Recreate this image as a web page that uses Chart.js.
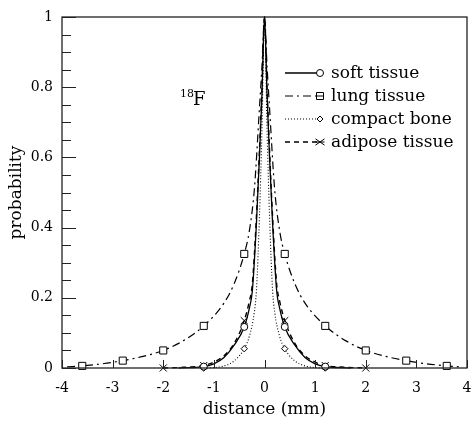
<!DOCTYPE html>
<html>
<head>
<meta charset="utf-8">
<script src="https://cdn.jsdelivr.net/npm/chart.js@4.4.0/dist/chart.umd.min.js"></script>
<style>
  html, body { margin: 0; padding: 0; background: #fff; }
</style>
</head>
<body>
<canvas id="chart" width="473" height="422"></canvas>
<script>
// values (distance in mm, probability)
const softX = [-1.7, -1.5, -1.2, -1.0, -0.8, -0.6, -0.4, -0.3, -0.24, -0.16, -0.1, -0.05, 0, 0.05, 0.1, 0.16, 0.24, 0.3, 0.4, 0.6, 0.8, 1.0, 1.2, 1.5, 1.7];
const softY = [0.0, 0.001, 0.004, 0.012, 0.03, 0.065, 0.117, 0.17, 0.22, 0.41, 0.6, 0.78, 1.0, 0.78, 0.6, 0.41, 0.22, 0.17, 0.117, 0.065, 0.03, 0.012, 0.004, 0.001, 0.0];

const lungX = [-3.9, -3.6, -3.2, -2.8, -2.4, -2.0, -1.6, -1.2, -0.8, -0.6, -0.4, -0.3, -0.2, -0.1, -0.05, 0, 0.05, 0.1, 0.2, 0.3, 0.4, 0.6, 0.8, 1.2, 1.6, 2.0, 2.4, 2.8, 3.2, 3.6, 3.9];
const lungY = [0.003, 0.006, 0.012, 0.021, 0.033, 0.05, 0.078, 0.12, 0.185, 0.24, 0.325, 0.39, 0.51, 0.74, 0.86, 1.0, 0.86, 0.74, 0.51, 0.39, 0.325, 0.24, 0.185, 0.12, 0.078, 0.05, 0.033, 0.021, 0.012, 0.006, 0.003];

const boneX = [-1.2, -1.0, -0.8, -0.6, -0.4, -0.3, -0.2, -0.16, -0.1, -0.05, 0, 0.05, 0.1, 0.16, 0.2, 0.3, 0.4, 0.6, 0.8, 1.0, 1.2];
const boneY = [0.0, 0.001, 0.006, 0.02, 0.055, 0.09, 0.16, 0.22, 0.43, 0.68, 1.0, 0.68, 0.43, 0.22, 0.16, 0.09, 0.055, 0.02, 0.006, 0.001, 0.0];

const fatX = [-2.0, -1.6, -1.2, -1.0, -0.8, -0.6, -0.4, -0.3, -0.24, -0.16, -0.1, -0.05, 0, 0.05, 0.1, 0.16, 0.24, 0.3, 0.4, 0.6, 0.8, 1.0, 1.2, 1.6, 2.0];
const fatY = [0.0, 0.002, 0.007, 0.017, 0.035, 0.07, 0.135, 0.19, 0.24, 0.43, 0.62, 0.8, 1.0, 0.8, 0.62, 0.43, 0.24, 0.19, 0.135, 0.07, 0.035, 0.017, 0.007, 0.002, 0.0];

// where the markers sit on each curve
const softMarks = [-1.2, -0.4, 0.4, 1.2];
const lungMarks = [-3.6, -2.8, -2.0, -1.2, -0.4, 0.4, 1.2, 2.0, 2.8, 3.6];
const boneMarks = [-1.2, -0.4, 0.4, 1.2];
const fatMarks = [-2.0, -1.2, -0.4, 0.4, 1.2, 2.0];

const seriesNames = ['soft tissue', 'lung tissue', 'compact bone', 'adipose tissue'];
const xTicks = [-4, -3, -2, -1, 0, 1, 2, 3, 4];
const yTicks = [0, 0.2, 0.4, 0.6, 0.8, 1];

const FONT = '"DejaVu Serif", "Liberation Serif", serif';

function pts(xs, ys) {
    return xs.map((x, i) => ({ x: x, y: ys[i] }));
}

function makeSet(label, xs, ys, marks, style, size, dash, width) {
    return {
        label: label,
        data: pts(xs, ys),
        borderColor: '#000',
        borderWidth: width,
        borderDash: dash,
        backgroundColor: '#fff',
        pointBackgroundColor: '#fff',
        pointBorderColor: '#000',
        pointBorderWidth: 1,
        pointStyle: style,
        pointRadius: c => (c.raw && marks.includes(c.raw.x)) ? size : 0,
        pointHoverRadius: 0,
        cubicInterpolationMode: 'monotone',
        fill: false,
        clip: false
    };
}

const datasets = [
    makeSet(seriesNames[0], softX, softY, softMarks, 'circle', 3.5, [], 1.3),
    makeSet(seriesNames[1], lungX, lungY, lungMarks, 'rect', 5, [8, 4, 2, 4], 1.2),
    makeSet(seriesNames[2], boneX, boneY, boneMarks, 'rectRot', 3.2, [1, 2], 1.1),
    makeSet(seriesNames[3], fatX, fatY, fatMarks, 'crossRot', 5, [5, 4], 1.4)
];

// draws a marker shape by hand (used for the legend)
function marker(ctx, style, x, y, r) {
    ctx.save();
    ctx.setLineDash([]);
    ctx.lineWidth = 1;
    ctx.strokeStyle = '#000';
    ctx.fillStyle = '#fff';
    ctx.beginPath();
    if (style === 'circle') {
        ctx.arc(x, y, r, 0, Math.PI * 2);
        ctx.fill(); ctx.stroke();
    } else if (style === 'rect') {
        ctx.rect(x - r, y - r, 2 * r, 2 * r);
        ctx.fill(); ctx.stroke();
        ctx.beginPath();
        ctx.moveTo(x - r, y); ctx.lineTo(x + r, y);
        ctx.stroke();
    } else if (style === 'rectRot') {
        ctx.moveTo(x, y - r); ctx.lineTo(x + r, y); ctx.lineTo(x, y + r); ctx.lineTo(x - r, y); ctx.closePath();
        ctx.fill(); ctx.stroke();
    } else {
        ctx.moveTo(x - r, y - r * 0.7); ctx.lineTo(x + r, y + r * 0.7);
        ctx.moveTo(x - r, y + r * 0.7); ctx.lineTo(x + r, y - r * 0.7);
        ctx.moveTo(x - r, y); ctx.lineTo(x + r, y);
        ctx.stroke();
    }
    ctx.restore();
}

const framePlugin = {
    id: 'frame',
    afterDraw(chart) {
        const ctx = chart.ctx;
        const a = chart.chartArea;
        const xs = chart.scales.x;
        const ys = chart.scales.y;
        ctx.save();
        ctx.strokeStyle = '#222';
        ctx.lineWidth = 1.3;
        ctx.setLineDash([]);
        ctx.strokeRect(a.left, a.top, a.right - a.left, a.bottom - a.top);

        ctx.lineWidth = 1;
        ctx.beginPath();
        // inward x ticks
        xTicks.forEach(v => {
            const px = Math.round(xs.getPixelForValue(v)) + 0.5;
            ctx.moveTo(px, a.bottom);
            ctx.lineTo(px, a.bottom - 8);
        });
        // inward y ticks, long every 0.2, short every 0.05
        for (let k = 0; k <= 20; k++) {
            const v = k * 0.05;
            const py = Math.round(ys.getPixelForValue(v)) + 0.5;
            const len = (k % 4 === 0) ? 14 : 9;
            ctx.moveTo(a.left, py);
            ctx.lineTo(a.left + len, py);
        }
        ctx.stroke();

        // legend
        const rows = [73, 96, 119, 142];
        const styles = ['circle', 'rect', 'rectRot', 'crossRot'];
        const sizes = [3.5, 3.5, 3, 4.5];
        ctx.font = '17px ' + FONT;
        ctx.fillStyle = '#000';
        ctx.textBaseline = 'middle';
        chart.data.datasets.forEach((ds, i) => {
            const y = rows[i];
            ctx.save();
            ctx.strokeStyle = '#000';
            ctx.lineWidth = ds.borderWidth;
            ctx.setLineDash(ds.borderDash);
            ctx.beginPath();
            ctx.moveTo(285, y);
            ctx.lineTo(320, y);
            ctx.stroke();
            ctx.restore();
            marker(ctx, styles[i], 320, y, sizes[i]);
            ctx.fillText(ds.label, 331, y + 1);
        });

        // isotope label
        ctx.font = '11px ' + FONT;
        ctx.textBaseline = 'alphabetic';
        ctx.fillText('18', 180, 97);
        ctx.font = '18px ' + FONT;
        ctx.fillText('F', 193, 105);
        ctx.restore();
    }
};

const ctx = document.getElementById('chart').getContext('2d');
const chart = new Chart(ctx, {
    type: 'line',
    data: { datasets: datasets },
    options: {
        responsive: false,
        animation: false,
        layout: { padding: { top: 17, right: 3, left: 0, bottom: 0 } },
        plugins: {
            legend: { display: false },
            tooltip: { enabled: false }
        },
        scales: {
            x: {
                type: 'linear',
                min: -4,
                max: 4,
                afterFit: s => { s.height = 54; s.paddingLeft = 0; s.paddingRight = 0; },
                afterBuildTicks: s => { s.ticks = xTicks.map(v => ({ value: v })); },
                ticks: {
                    color: '#000',
                    font: { family: FONT, size: 14 },
                    padding: 12,
                    maxRotation: 0,
                    callback: v => String(v)
                },
                grid: { display: false, drawTicks: false },
                border: { display: false },
                title: {
                    display: true,
                    text: 'distance (mm)',
                    color: '#000',
                    font: { family: FONT, size: 17 },
                    padding: { top: 0, bottom: 2 }
                }
            },
            y: {
                type: 'linear',
                min: 0,
                max: 1,
                afterFit: s => { s.width = 62; s.paddingTop = 0; s.paddingBottom = 0; },
                afterBuildTicks: s => { s.ticks = yTicks.map(v => ({ value: v })); },
                ticks: {
                    color: '#000',
                    font: { family: FONT, size: 14 },
                    padding: 9,
                    callback: v => String(v)
                },
                grid: { display: false, drawTicks: false },
                border: { display: false },
                title: {
                    display: true,
                    text: 'probability',
                    color: '#000',
                    font: { family: FONT, size: 17 },
                    padding: { top: 6, bottom: 0 }
                }
            }
        }
    },
    plugins: [framePlugin]
});
</script>
</body>
</html>
